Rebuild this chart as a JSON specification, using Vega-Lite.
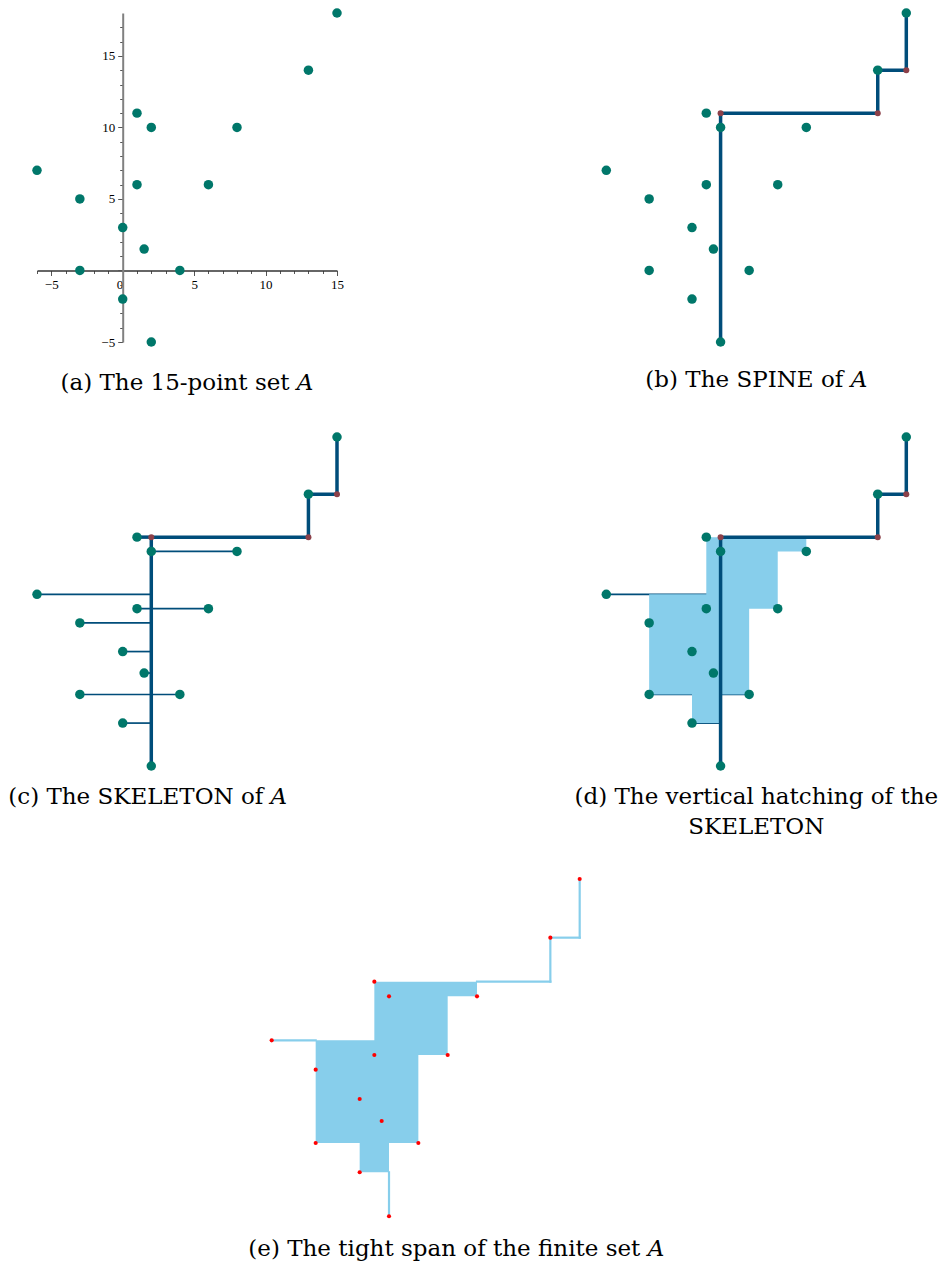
{
  "$schema": "https://vega.github.io/schema/vega-lite/v6.json",
  "padding": {"left": 8, "top": 8, "right": 0, "bottom": 0},
  "autosize": {"type": "pad"},
  "background": "white",
  "bounds": "flush",
  "columns": 2,
  "spacing": {"row": 95, "column": 269.3},
  "config": {
    "view": {"stroke": null},
    "title": {"font": "DejaVu Serif", "fontSize": 23, "fontWeight": "normal", "color": "#000000", "orient": "bottom", "frame": "group", "baseline": "alphabetic", "anchor": "middle"}
  },
  "datasets": {
    "pts": [
      {"x": -6, "y": 7}, {"x": -3, "y": 5}, {"x": -3, "y": 0}, {"x": 0, "y": 3}, {"x": 0, "y": -2},
      {"x": 1, "y": 11}, {"x": 1, "y": 6}, {"x": 1.5, "y": 1.5}, {"x": 2, "y": 10}, {"x": 2, "y": -5},
      {"x": 4, "y": 0}, {"x": 6, "y": 6}, {"x": 8, "y": 10}, {"x": 13, "y": 14}, {"x": 15, "y": 18}
    ],
    "steiner": [{"x": 2, "y": 11}, {"x": 13, "y": 11}, {"x": 15, "y": 14}],
    "spine": [
      {"x": 2, "y": -5, "x2": 2, "y2": 11},
      {"x": 2, "y": 11, "x2": 13, "y2": 11},
      {"x": 13, "y": 11, "x2": 13, "y2": 14},
      {"x": 13, "y": 14, "x2": 15, "y2": 14},
      {"x": 15, "y": 14, "x2": 15, "y2": 18}
    ],
    "hatch": [
      {"x": 1, "y": 11, "x2": 2, "y2": 11, "kind": "spur", "inD": false},
      {"x": 2, "y": 10, "x2": 8, "y2": 10, "kind": "thin", "inD": false},
      {"x": -6, "y": 7, "x2": 2, "y2": 7, "kind": "thin", "inD": true},
      {"x": 1, "y": 6, "x2": 6, "y2": 6, "kind": "thin", "inD": false},
      {"x": -3, "y": 5, "x2": 2, "y2": 5, "kind": "thin", "inD": true},
      {"x": 0, "y": 3, "x2": 2, "y2": 3, "kind": "thin", "inD": true},
      {"x": 1.5, "y": 1.5, "x2": 2, "y2": 1.5, "kind": "thin", "inD": true},
      {"x": -3, "y": 0, "x2": 4, "y2": 0, "kind": "thin", "inD": true},
      {"x": 0, "y": -2, "x2": 2, "y2": -2, "kind": "thin", "inD": true}
    ],
    "span": [
      {"y": -2, "xl": 0, "xr": 2},
      {"y": 0, "xl": -3, "xr": 4},
      {"y": 6, "xl": -3, "xr": 6},
      {"y": 7, "xl": 1, "xr": 6},
      {"y": 10, "xl": 1, "xr": 8},
      {"y": 11, "xl": 1, "xr": 8}
    ],
    "tight": [
      {"x": -6, "y": 7, "x2": -3, "y2": 7},
      {"x": 2, "y": -5, "x2": 2, "y2": -2},
      {"x": 8, "y": 11, "x2": 13, "y2": 11},
      {"x": 13, "y": 11, "x2": 13, "y2": 14},
      {"x": 13, "y": 14, "x2": 15, "y2": 14},
      {"x": 15, "y": 14, "x2": 15, "y2": 18}
    ]
  },
  "concat": [
    {
      "width": 300, "height": 329,
      "title": {"text": "(a) The 15-point set 𝐴", "offset": 22.5},
      "data": {"name": "pts"},
      "mark": {"type": "circle", "color": "#00776a", "size": 90, "opacity": 1},
      "encoding": {
        "x": {"field": "x", "type": "quantitative", "scale": {"domain": [-6, 15], "nice": false, "zero": false},
          "axis": {"orient": "bottom", "offset": -71.5, "title": null, "grid": false,
            "values": [-6, -5, -4, -3, -2, -1, 0, 1, 2, 3, 4, 5, 6, 7, 8, 9, 10, 11, 12, 13, 14, 15],
            "labelExpr": "datum.value % 5 === 0 ? datum.label : ''",
            "labelFlush": false, "labelOverlap": false, "labelFont": "Liberation Serif", "labelFontSize": 13, "labelColor": "#000000",
            "labelPadding": 3,
            "labelAlign": {"condition": {"test": "datum.value === 0", "value": "right"}, "value": "center"},
            "tickSize": {"condition": {"test": "datum.value % 5 === 0", "value": 5}, "value": 3},
            "domainColor": "#333333", "domainWidth": 1.5, "tickColor": "#555555", "tickWidth": 1}},
        "y": {"field": "y", "type": "quantitative", "scale": {"domain": [-5, 18], "nice": false, "zero": false},
          "axis": {"orient": "left", "offset": -85.7, "title": null, "grid": false,
            "values": [-5, -4, -3, -2, -1, 0, 1, 2, 3, 4, 5, 6, 7, 8, 9, 10, 11, 12, 13, 14, 15, 16, 17],
            "labelExpr": "datum.value % 5 === 0 && datum.value !== 0 ? datum.label : ''",
            "labelFlush": false, "labelOverlap": false, "labelFont": "Liberation Serif", "labelFontSize": 13, "labelColor": "#000000",
            "labelPadding": 3,
            "tickSize": {"condition": {"test": "datum.value % 5 === 0", "value": 5}, "value": 3},
            "domainColor": "#808080", "domainWidth": 2, "tickColor": "#555555", "tickWidth": 1}}
      }
    },
    {
      "width": 300, "height": 329,
      "title": {"text": "(b) The SPINE of 𝐴", "offset": 22.5},
      "encoding": {
        "x": {"field": "x", "type": "quantitative", "scale": {"domain": [-6, 15], "nice": false, "zero": false}, "axis": null},
        "y": {"field": "y", "type": "quantitative", "scale": {"domain": [-5, 18], "nice": false, "zero": false}, "axis": null}
      },
      "layer": [
        {"data": {"name": "spine"}, "mark": {"type": "rule", "color": "#004d7a", "strokeWidth": 3.5, "strokeCap": "square"},
          "encoding": {"x2": {"field": "x2"}, "y2": {"field": "y2"}}},
        {"data": {"name": "pts"}, "mark": {"type": "circle", "color": "#00776a", "size": 90, "opacity": 1}},
        {"data": {"name": "steiner"}, "mark": {"type": "circle", "color": "#8c4049", "size": 36, "opacity": 1}}
      ]
    },
    {
      "width": 300, "height": 329,
      "title": {"text": "(c) The SKELETON of 𝐴", "offset": 15.3, "anchor": "start", "dx": -28.7},
      "encoding": {
        "x": {"field": "x", "type": "quantitative", "scale": {"domain": [-6, 15], "nice": false, "zero": false}, "axis": null},
        "y": {"field": "y", "type": "quantitative", "scale": {"domain": [-5, 18], "nice": false, "zero": false}, "axis": null}
      },
      "layer": [
        {"data": {"name": "hatch"}, "transform": [{"filter": "datum.kind === 'thin'"}],
          "mark": {"type": "rule", "color": "#004d7a", "strokeWidth": 1.7},
          "encoding": {"x2": {"field": "x2"}, "y2": {"field": "y2"}}},
        {"data": {"name": "hatch"}, "transform": [{"filter": "datum.kind === 'spur'"}],
          "mark": {"type": "rule", "color": "#004d7a", "strokeWidth": 3.5},
          "encoding": {"x2": {"field": "x2"}, "y2": {"field": "y2"}}},
        {"data": {"name": "spine"}, "mark": {"type": "rule", "color": "#004d7a", "strokeWidth": 3.5, "strokeCap": "square"},
          "encoding": {"x2": {"field": "x2"}, "y2": {"field": "y2"}}},
        {"data": {"name": "pts"}, "mark": {"type": "circle", "color": "#00776a", "size": 90, "opacity": 1}},
        {"data": {"name": "steiner"}, "mark": {"type": "circle", "color": "#8c4049", "size": 36, "opacity": 1}}
      ]
    },
    {
      "width": 300, "height": 329,
      "title": {"text": ["(d) The vertical hatching of the", "SKELETON"], "offset": 15.3, "lineHeight": 30},
      "encoding": {
        "x": {"field": "x", "type": "quantitative", "scale": {"domain": [-6, 15], "nice": false, "zero": false}, "axis": null},
        "y": {"field": "y", "type": "quantitative", "scale": {"domain": [-5, 18], "nice": false, "zero": false}, "axis": null}
      },
      "layer": [
        {"data": {"name": "hatch"}, "transform": [{"filter": "datum.kind === 'thin' && datum.inD"}],
          "mark": {"type": "rule", "color": "#004d7a", "strokeWidth": 1.7},
          "encoding": {"x2": {"field": "x2"}, "y2": {"field": "y2"}}},
        {"data": {"name": "span"}, "mark": {"type": "area", "orient": "horizontal", "interpolate": "step-after", "color": "#87ceeb", "opacity": 1},
          "encoding": {"x": {"field": "xl", "type": "quantitative"}, "x2": {"field": "xr"}, "y": {"field": "y", "type": "quantitative"}}},
        {"data": {"name": "spine"}, "mark": {"type": "rule", "color": "#004d7a", "strokeWidth": 3.5, "strokeCap": "square"},
          "encoding": {"x2": {"field": "x2"}, "y2": {"field": "y2"}}},
        {"data": {"name": "pts"}, "mark": {"type": "circle", "color": "#00776a", "size": 90, "opacity": 1}},
        {"data": {"name": "steiner"}, "mark": {"type": "circle", "color": "#8c4049", "size": 36, "opacity": 1}}
      ]
    },
    {
      "width": 300, "height": 355.3,
      "title": {"text": "(e) The tight span of the finite set 𝐴", "offset": 19.7, "dx": 269.3},
      "encoding": {
        "x": {"field": "x", "type": "quantitative", "scale": {"domain": [-22, -1.546], "nice": false, "zero": false}, "axis": null},
        "y": {"field": "y", "type": "quantitative", "scale": {"domain": [-5, 19.227], "nice": false, "zero": false}, "axis": null}
      },
      "layer": [
        {"data": {"name": "span"}, "mark": {"type": "area", "orient": "horizontal", "interpolate": "step-after", "color": "#87ceeb", "opacity": 1},
          "encoding": {"x": {"field": "xl", "type": "quantitative"}, "x2": {"field": "xr"}, "y": {"field": "y", "type": "quantitative"}}},
        {"data": {"name": "tight"}, "mark": {"type": "rule", "color": "#87ceeb", "strokeWidth": 2.2, "strokeCap": "square"},
          "encoding": {"x2": {"field": "x2"}, "y2": {"field": "y2"}}},
        {"data": {"name": "pts"}, "mark": {"type": "circle", "color": "#ff0000", "size": 17, "opacity": 1}}
      ]
    }
  ]
}
